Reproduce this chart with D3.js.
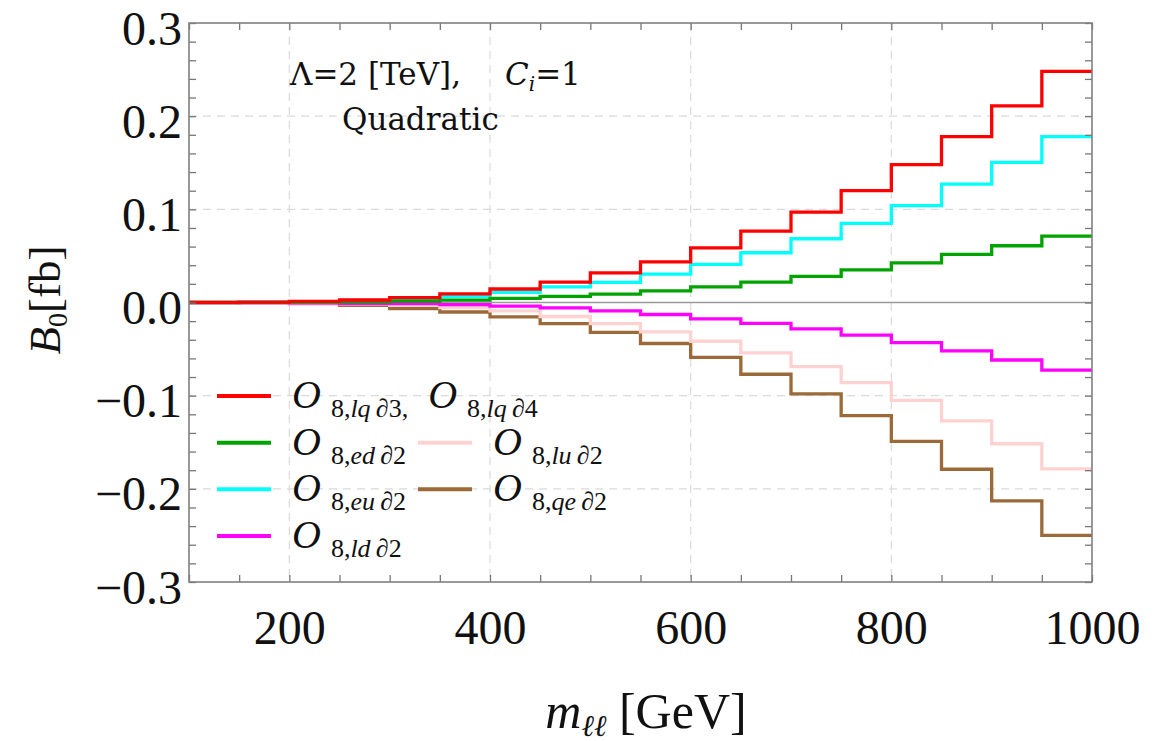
<!DOCTYPE html>
<html lang="en">
<head>
    <meta charset="UTF-8">
    <title>B0 step chart</title>
    <script src="https://d3js.org/d3.v7.min.js"></script>
    <style>
        body {margin: 0; background: white;}
        text {font-family: "Liberation Serif", "DejaVu Serif", serif; fill: #111;}
    </style>
</head>
<body>
<div id="chart"></div>
<script>
// bin edges of m_ll (GeV)
var binEdges = [100, 150, 200, 250, 300, 350, 400, 450, 500, 550, 600, 650, 700, 750, 800, 850, 900, 950, 1000];

// B0 per bin (fb), one array per operator
var lqValues = [0.0002, 0.0005, 0.0012, 0.0027, 0.0052, 0.0092, 0.0145, 0.0218, 0.0318, 0.0437, 0.0587, 0.0767, 0.0970, 0.1200, 0.1480, 0.1780, 0.2110, 0.2480];
var edValues = [0.0000, 0.0001, 0.0003, 0.0007, 0.0015, 0.0025, 0.0045, 0.0065, 0.0090, 0.0125, 0.0168, 0.0218, 0.0280, 0.0350, 0.0426, 0.0516, 0.0609, 0.0713];
var euValues = [0.0001, 0.0003, 0.0007, 0.0015, 0.0032, 0.0064, 0.0110, 0.0168, 0.0215, 0.0304, 0.0409, 0.0534, 0.0684, 0.0850, 0.1040, 0.1270, 0.1505, 0.1780];
var ldValues = [-0.0001, -0.0002, -0.0004, -0.0008, -0.0013, -0.0022, -0.0038, -0.0058, -0.0090, -0.0129, -0.0176, -0.0223, -0.0284, -0.0350, -0.0430, -0.0520, -0.0617, -0.0725];
var luValues = [-0.0001, -0.0003, -0.0007, -0.0015, -0.0030, -0.0054, -0.0090, -0.0150, -0.0226, -0.0316, -0.0416, -0.0540, -0.0688, -0.0860, -0.1050, -0.1270, -0.1516, -0.1785];
var qeValues = [-0.0002, -0.0005, -0.0012, -0.0030, -0.0065, -0.0102, -0.0155, -0.0226, -0.0320, -0.0440, -0.0588, -0.0770, -0.0980, -0.1215, -0.1490, -0.1790, -0.2130, -0.2500];

// legend subscripts (after "8,"), red entry carries two operators
var legendSubs = [["lq", "3", "lq", "4"], ["ed", "2"], ["eu", "2"], ["ld", "2"], ["lu", "2"], ["qe", "2"]];

// axis tick labels
var xTickLabels = [200, 400, 600, 800, 1000];
var yTickLabels = [-0.3, -0.2, -0.1, 0.0, 0.1, 0.2, 0.3];

// colours
var colors = ["#ff0000", "#00a300", "#00ffff", "#ff00ff", "#ffd2d2", "#9b6a38"];

var series = [
    {values: lqValues, color: colors[0], sub: legendSubs[0]},
    {values: edValues, color: colors[1], sub: legendSubs[1]},
    {values: euValues, color: colors[2], sub: legendSubs[2]},
    {values: ldValues, color: colors[3], sub: legendSubs[3]},
    {values: luValues, color: colors[4], sub: legendSubs[4]},
    {values: qeValues, color: colors[5], sub: legendSubs[5]}
];

var width = 1175, height = 741;
var plotLeft = 189, plotRight = 1092, plotTop = 23, plotBottom = 582;

var svg = d3.select("#chart").append("svg")
    .attr("width", width)
    .attr("height", height);

var x = d3.scaleLinear().domain([100, 1000]).range([plotLeft, plotRight]);
var y = d3.scaleLinear().domain([-0.3, 0.3]).range([plotBottom, plotTop]);

// grid
var grid = svg.append("g");
grid.selectAll("line.vg")
    .data([200, 400, 600, 800])
    .enter().append("line")
        .attr("x1", function(d){ return x(d); })
        .attr("x2", function(d){ return x(d); })
        .attr("y1", plotTop).attr("y2", plotBottom)
        .attr("stroke", "#dadada").attr("stroke-width", 1.2)
        .attr("stroke-dasharray", "8,6");
grid.selectAll("line.hg")
    .data([-0.2, -0.1, 0.1, 0.2])
    .enter().append("line")
        .attr("x1", plotLeft).attr("x2", plotRight)
        .attr("y1", function(d){ return y(d); })
        .attr("y2", function(d){ return y(d); })
        .attr("stroke", "#dadada").attr("stroke-width", 1.2)
        .attr("stroke-dasharray", "8,6");

// zero line
svg.append("line")
    .attr("x1", plotLeft).attr("x2", plotRight)
    .attr("y1", y(0)).attr("y2", y(0))
    .attr("stroke", "#9a9a9a").attr("stroke-width", 1.6);

// step lines, red on top
var line = d3.line()
    .x(function(d){ return x(d[0]); })
    .y(function(d){ return y(d[1]); })
    .curve(d3.curveStepAfter);

series.slice().reverse().forEach(function(s){
    var pts = s.values.map(function(v, i){ return [binEdges[i], v]; });
    pts.push([binEdges[binEdges.length - 1], s.values[s.values.length - 1]]);
    svg.append("path")
        .attr("d", line(pts))
        .attr("fill", "none")
        .attr("stroke", s.color)
        .attr("stroke-width", 3.3)
        .attr("stroke-linejoin", "miter");
});

// axes (ticks point inward)
var xMinor = d3.range(2, 21).map(function(k){ return k * 50; });
var yMinor = d3.range(-15, 16).map(function(k){ return k / 50; });

var xAxis = d3.axisBottom(x)
    .tickValues(xMinor)
    .tickSize(-7)
    .tickPadding(0)
    .tickFormat(function(d){ return xTickLabels.indexOf(d) >= 0 ? d : ""; });
var gx = svg.append("g")
    .attr("transform", "translate(0," + plotBottom + ")")
    .call(xAxis);
gx.selectAll("text")
    .attr("y", 62).attr("dy", 0)
    .style("font-size", "48px");

svg.append("g")
    .attr("transform", "translate(0," + plotTop + ")")
    .call(d3.axisTop(x).tickValues(xMinor).tickSize(-7).tickFormat(""));

var yAxis = d3.axisLeft(y)
    .tickValues(yMinor)
    .tickSize(-7)
    .tickPadding(7)
    .tickFormat(function(d){
        var hit = yTickLabels.some(function(t){ return Math.abs(t - d) < 1e-6; });
        return hit ? d3.format(".1f")(d) : "";
    });
var gy = svg.append("g")
    .attr("transform", "translate(" + plotLeft + ",0)")
    .call(yAxis);
gy.selectAll("text")
    .attr("dy", 21)
    .style("font-size", "48px");

svg.append("g")
    .attr("transform", "translate(" + plotRight + ",0)")
    .call(d3.axisRight(y).tickValues(yMinor).tickSize(-7).tickFormat(""));

svg.selectAll(".domain").remove();
svg.selectAll(".tick line").attr("stroke", "#777").attr("stroke-width", 1.3);

// frame
svg.append("rect")
    .attr("x", plotLeft).attr("y", plotTop)
    .attr("width", plotRight - plotLeft).attr("height", plotBottom - plotTop)
    .attr("fill", "none")
    .attr("stroke", "#808080").attr("stroke-width", 1.6);

// annotation
var note = svg.append("text").attr("x", 290).attr("y", 85)
    .style("font-family", "'DejaVu Serif', serif").style("font-size", "31px");
note.append("tspan").text("\u039B=2 [TeV],");
note.append("tspan").attr("x", 505).style("font-style", "italic").text("C");
note.append("tspan").style("font-style", "italic").style("font-size", "20px").attr("dy", 6).text("i");
note.append("tspan").attr("dy", -6).text("=1");
svg.append("text").attr("x", 342).attr("y", 130)
    .style("font-family", "'DejaVu Serif', serif").style("font-size", "31px")
    .text("Quadratic");

// axis titles
var xt = svg.append("text")
    .attr("x", 646).attr("y", 728)
    .attr("text-anchor", "middle")
    .style("font-size", "50px");
xt.append("tspan").style("font-style", "italic").text("m");
xt.append("tspan").style("font-style", "italic").style("font-size", "30px").attr("dy", 8).text("\u2113\u2113");
xt.append("tspan").attr("dy", -8).text(" [GeV]");

var yt = svg.append("text")
    .attr("transform", "translate(60,300) rotate(-90)")
    .attr("text-anchor", "middle")
    .style("font-size", "45px");
yt.append("tspan").style("font-style", "italic").text("B");
yt.append("tspan").style("font-size", "28px").attr("dy", 7).text("0");
yt.append("tspan").attr("dy", -7).text("[fb]");

// legend
var legendPos = [
    {lx: 217, ty: 396}, {lx: 217, ty: 442.7}, {lx: 217, ty: 489.3},
    {lx: 217, ty: 536}, {lx: 418, ty: 442.7}, {lx: 418, ty: 489.3}
];

function addOp(t, sub, num, first){
    t.append("tspan")
        .attr("dx", first ? 0 : 20)
        .attr("dy", first ? 0 : -9)
        .style("font-style", "italic").style("font-size", "40px")
        .text("O");
    t.append("tspan").attr("dx", 10).attr("dy", 9).style("font-size", "26px").text("8,");
    t.append("tspan").style("font-style", "italic").style("font-size", "26px").text(sub + "\u2009\u2202");
    t.append("tspan").style("font-size", "26px").text(num);
}

series.forEach(function(s, i){
    var p = legendPos[i];
    svg.append("line")
        .attr("x1", p.lx).attr("x2", p.lx + 54)
        .attr("y1", p.ty).attr("y2", p.ty)
        .attr("stroke", s.color).attr("stroke-width", 4);
    var t = svg.append("text").attr("x", p.lx + 75).attr("y", p.ty + 12);
    addOp(t, s.sub[0], s.sub[1], true);
    if (s.sub.length > 2) {
        t.append("tspan").style("font-size", "26px").text(",");
        addOp(t, s.sub[2], s.sub[3], false);
    }
});
</script>
</body>
</html>
